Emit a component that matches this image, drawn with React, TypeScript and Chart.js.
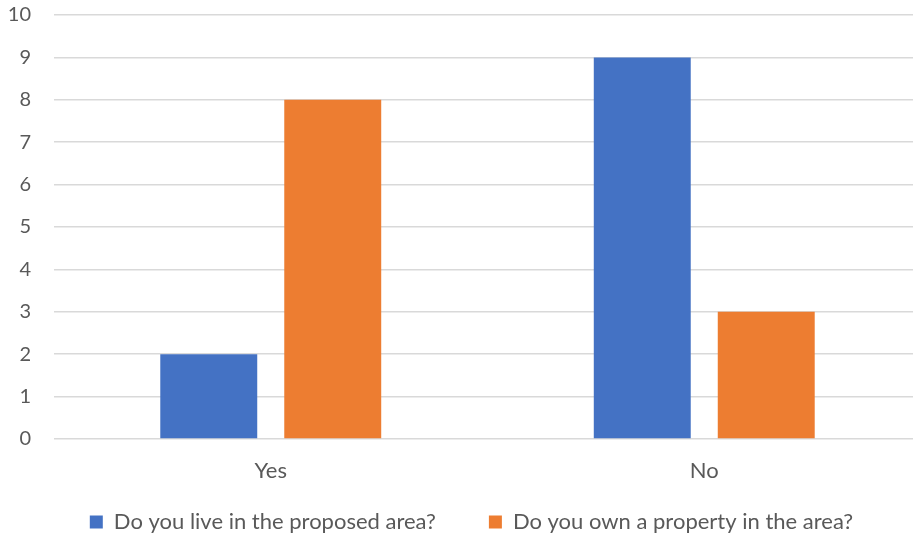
import React, { useEffect, useRef } from "react";
import { Chart, registerables } from "chart.js";

Chart.register(...registerables);

const categories = ["Yes", "No"];
const liveInArea = [2, 9];
const ownProperty = [8, 3];
const seriesNames = ["Do you live in the proposed area?", "Do you own a property in the area?"];
const yTicks = [0, 10, 1]; // min, max, step

const TEXT = "#595959";
const FONT = "Lato, 'Open Sans', sans-serif";
const LEGEND_FONT = 22;

const legendPlacer = {
  id: "legendPlacer",
  afterLayout(chart: any) {
    const lg = chart.legend;
    if (!lg) return;
    lg.left += 8;
    lg.right += 8;
    lg.top = 522 - LEGEND_FONT / 2 - 53;
    lg.bottom = 537;
    lg.height = lg.bottom - lg.top;
  },
};

export default function App() {
  const ref = useRef<HTMLCanvasElement>(null);
  useEffect(() => {
    document.body.style.margin = "0";
    const canvas = ref.current!;
    const chart = new Chart(canvas, {
      type: "bar",
      data: {
        labels: categories,
        datasets: [
          { label: seriesNames[0], data: liveInArea, backgroundColor: "#4472C4", borderWidth: 0 },
          { label: seriesNames[1], data: ownProperty, backgroundColor: "#ED7D31", borderWidth: 0 },
        ],
      },
      plugins: [legendPlacer],
      options: {
        responsive: false,
        animation: false,
        devicePixelRatio: 1,
        layout: { padding: { top: 15, left: 6, right: 0, bottom: 0 } },
        datasets: { bar: { categoryPercentage: 0.572, barPercentage: 0.782 } },
        scales: {
          x: {
            grid: { display: false, drawTicks: false },
            border: { display: false },
            ticks: { color: TEXT, font: { family: FONT, size: 22 }, padding: 19 },
            afterFit: (s: any) => { s.height = 44; },
          },
          y: {
            min: yTicks[0],
            max: yTicks[1],
            ticks: { stepSize: yTicks[2], color: TEXT, font: { family: FONT, size: 20 }, padding: 23 },
            grid: { color: "#d9d9d9", lineWidth: 1.5, drawTicks: false },
            border: { display: false },
            afterFit: (s: any) => { s.width = 48; s.paddingTop = 0; s.paddingBottom = 0; },
          },
        },
        plugins: {
          legend: {
            position: "bottom",
            maxHeight: 54,
            labels: { color: TEXT, font: { family: FONT, size: LEGEND_FONT }, boxWidth: 13, boxHeight: 13, padding: 53 },
          },
          tooltip: { enabled: false },
        },
      },
    });
    return () => chart.destroy();
  }, []);
  return (
    <div style={{ width: 913, height: 537, overflow: "hidden", position: "relative" }}>
      <canvas ref={ref} width={921} height={537} style={{ width: 921, height: 537, display: "block" }} />
    </div>
  );
}
